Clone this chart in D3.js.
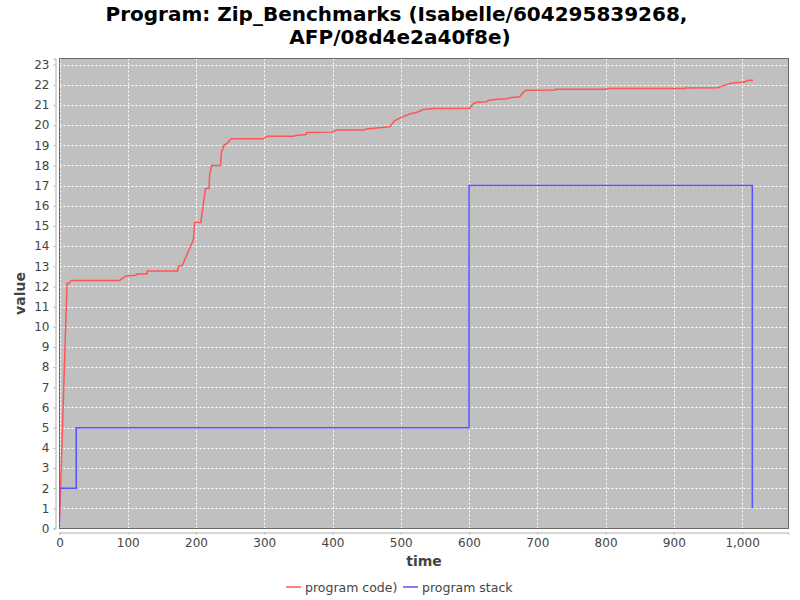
<!DOCTYPE html>
<html>
<head>
<meta charset="utf-8">
<script src="https://cdn.jsdelivr.net/npm/d3@7"></script>
<style>
  body { margin: 0; background: #ffffff; }
  svg { display: block; font-family: "DejaVu Sans", sans-serif; }
</style>
</head>
<body>
<div id="chart"></div>
<script>
var titleLines = ["Program: Zip_Benchmarks (Isabelle/604295839268,", "AFP/08d4e2a40f8e)"];
var seriesNames = ["program code)", "program stack"];
var seriesColors = ["#ff5555", "#5555ff"];

// [time, value]
var codeSeries = [
  [0, 0.3], [11, 12.15], [14, 12.15], [17, 12.3], [88, 12.3], [94, 12.45],
  [98, 12.52], [112, 12.55], [113, 12.62], [128, 12.62], [129, 12.77], [173, 12.77],
  [174, 13.0], [180, 13.05], [196, 14.3], [198, 15.17], [207, 15.17], [214, 16.86],
  [219, 16.86], [220, 17.57], [223, 18.0], [236, 18.0], [237, 18.62], [241, 19.0],
  [246, 19.1], [251, 19.32], [298, 19.32], [305, 19.45], [341, 19.45], [350, 19.5],
  [361, 19.53], [362, 19.63], [399, 19.65], [406, 19.75], [445, 19.76], [450, 19.8],
  [472, 19.88], [484, 19.92], [491, 20.22], [501, 20.38], [513, 20.55], [523, 20.62],
  [533, 20.77], [548, 20.82], [601, 20.83], [606, 21.05], [611, 21.13], [626, 21.15],
  [628, 21.22], [640, 21.28], [655, 21.3], [660, 21.35], [674, 21.4], [681, 21.68],
  [684, 21.73], [726, 21.74], [727, 21.78], [801, 21.78], [802, 21.81], [916, 21.81],
  [917, 21.84], [965, 21.85], [970, 21.93], [979, 22.03], [987, 22.1], [1002, 22.12],
  [1006, 22.18], [1010, 22.22], [1016, 22.22]
];
var stackSeries = [
  [0, 0], [0, 2], [24.5, 2], [24.5, 5], [600, 5], [600, 17], [1015, 17], [1015, 1]
];

var xTicks = [0, 100, 200, 300, 400, 500, 600, 700, 800, 900, 1000];
var yTicks = d3.range(0, 24);

var width = 800;
var height = 600;
var plot = { left: 59.5, right: 788.5, top: 58.5, bottom: 528.5 };

var svg = d3.select("#chart")
  .append("svg")
  .attr("width", width)
  .attr("height", height);

var x = d3.scaleLinear().domain([0, 1068]).range([plot.left, plot.right]);
var y = d3.scaleLinear().domain([0, 23.3]).range([plot.bottom, plot.top]);

// title (first line keeps a trailing space when wrapped, so it sits a bit left)
svg.append("g")
  .selectAll("text")
  .data(titleLines)
  .enter()
  .append("text")
  .attr("x", function (d, i) { return i === 0 ? 396.5 : 400; })
  .attr("y", function (d, i) { return 21 + i * 23; })
  .attr("text-anchor", "middle")
  .attr("font-size", "20px")
  .attr("font-weight", "bold")
  .attr("fill", "#000")
  .text(function (d) { return d; });

// plot background
svg.append("rect")
  .attr("x", plot.left)
  .attr("y", plot.top)
  .attr("width", plot.right - plot.left)
  .attr("height", plot.bottom - plot.top)
  .attr("fill", "#c0c0c0");

// grid lines
svg.append("g")
  .selectAll("line")
  .data(xTicks)
  .enter()
  .append("line")
  .attr("x1", function (d) { return Math.round(x(d)) + 0.5; })
  .attr("x2", function (d) { return Math.round(x(d)) + 0.5; })
  .attr("y1", plot.top)
  .attr("y2", plot.bottom)
  .attr("stroke", "#ffffff")
  .attr("stroke-width", 1)
  .attr("stroke-dasharray", "2,2");

svg.append("g")
  .selectAll("line")
  .data(yTicks)
  .enter()
  .append("line")
  .attr("x1", plot.left)
  .attr("x2", plot.right)
  .attr("y1", function (d) { return Math.round(y(d)) + 0.5; })
  .attr("y2", function (d) { return Math.round(y(d)) + 0.5; })
  .attr("stroke", "#ffffff")
  .attr("stroke-width", 1)
  .attr("stroke-dasharray", "2,2");

// series lines
var line = d3.line()
  .x(function (d) { return x(d[0]); })
  .y(function (d) { return y(d[1]); });

svg.append("clipPath").attr("id", "plot-clip")
  .append("rect")
  .attr("x", plot.left)
  .attr("y", plot.top)
  .attr("width", plot.right - plot.left)
  .attr("height", plot.bottom - plot.top);

svg.append("g")
  .attr("clip-path", "url(#plot-clip)")
  .selectAll("path")
  .data([codeSeries, stackSeries])
  .enter()
  .append("path")
  .attr("d", line)
  .attr("fill", "none")
  .attr("stroke", function (d, i) { return seriesColors[i]; })
  .attr("stroke-width", 1.5);

// plot outline
svg.append("rect")
  .attr("x", plot.left)
  .attr("y", plot.top)
  .attr("width", plot.right - plot.left)
  .attr("height", plot.bottom - plot.top)
  .attr("fill", "none")
  .attr("stroke", "#6a6a6a")
  .attr("stroke-width", 1);

// axes
var xAxis = d3.axisBottom(x)
  .tickValues(xTicks)
  .tickSize(2)
  .tickPadding(4)
  .tickFormat(d3.format(",d"));

var yAxis = d3.axisLeft(y)
  .tickValues(yTicks)
  .tickSize(2)
  .tickPadding(4)
  .tickFormat(d3.format("d"));

var gx = svg.append("g")
  .attr("transform", "translate(0," + (plot.bottom + 4) + ")")
  .call(xAxis);

var gy = svg.append("g")
  .attr("transform", "translate(" + (plot.left - 4) + ",0)")
  .call(yAxis);

[gx, gy].forEach(function (g) {
  g.select(".domain").attr("stroke", "#b0b0b0");
  g.selectAll(".tick line").attr("stroke", "#b0b0b0");
  g.selectAll(".tick text")
    .attr("fill", "#444444")
    .attr("font-size", "12px")
    .attr("font-family", "DejaVu Sans, sans-serif");
});

// axis labels
svg.append("text")
  .attr("x", (plot.left + plot.right) / 2)
  .attr("y", 566)
  .attr("text-anchor", "middle")
  .attr("font-size", "14px")
  .attr("font-weight", "bold")
  .attr("fill", "#444444")
  .text("time");

svg.append("text")
  .attr("transform", "translate(25," + ((plot.top + plot.bottom) / 2) + ") rotate(-90)")
  .attr("text-anchor", "middle")
  .attr("font-size", "14px")
  .attr("font-weight", "bold")
  .attr("fill", "#444444")
  .text("value");

// legend
var legendX = [286, 403];
var legend = svg.append("g")
  .selectAll("g")
  .data(seriesNames)
  .enter()
  .append("g")
  .attr("transform", function (d, i) { return "translate(" + legendX[i] + ",587)"; });

legend.append("line")
  .attr("x1", 0)
  .attr("x2", 15)
  .attr("y1", 0)
  .attr("y2", 0)
  .attr("stroke", function (d, i) { return seriesColors[i]; })
  .attr("stroke-width", 1.5);

legend.append("text")
  .attr("x", 19)
  .attr("y", 4.5)
  .attr("font-size", "12.5px")
  .attr("fill", "#444444")
  .text(function (d) { return d; });
</script>
</body>
</html>
